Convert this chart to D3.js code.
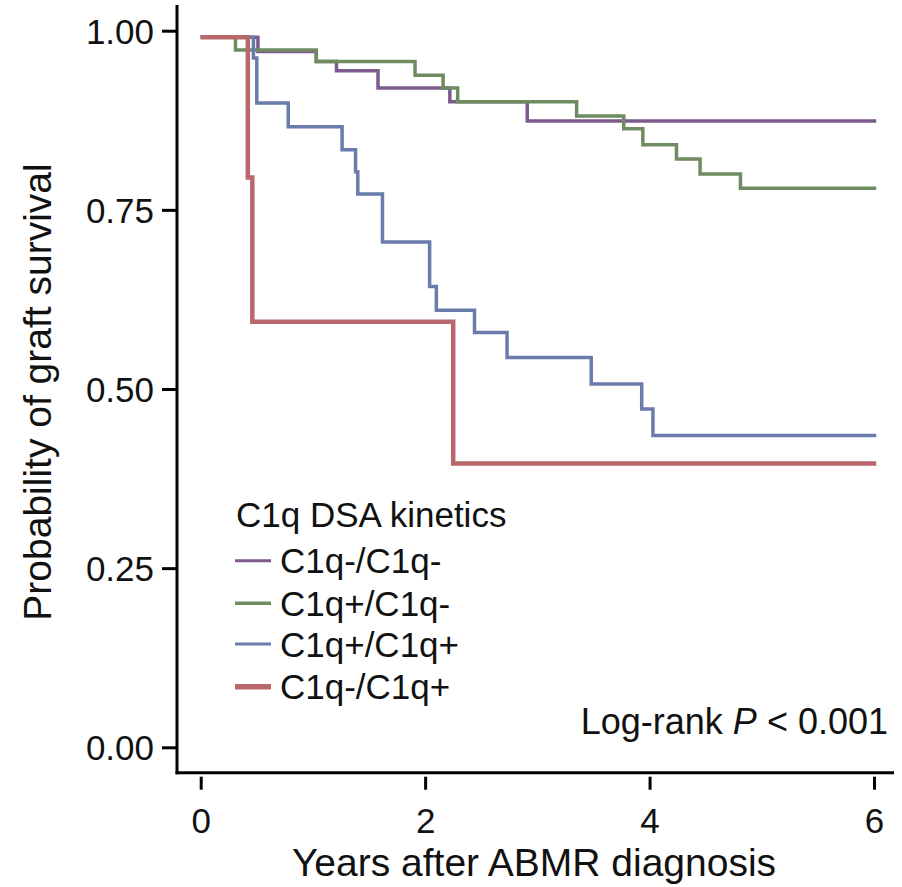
<!DOCTYPE html>
<html>
<head>
<meta charset="utf-8">
<script src="https://cdn.jsdelivr.net/npm/d3@7"></script>
<style>
  html, body { margin: 0; padding: 0; background: #fff; }
  svg { display: block; }
  text { font-family: "Liberation Sans", Arial, sans-serif; fill: #111; }
</style>
</head>
<body>
<svg id="chart" width="902" height="887"></svg>
<script>
// ---- data ----
const xTicks = [0, 2, 4, 6];
const yTicks = [0, 0.25, 0.5, 0.75, 1];
const seriesNames = ["C1q-/C1q-", "C1q+/C1q-", "C1q+/C1q+", "C1q-/C1q+"];
const seriesColors = ["#7d5b8c", "#6f8b60", "#6a7cab", "#b8686d"];
const legendTitle = "C1q DSA kinetics";
const xTitle = "Years after ABMR diagnosis";
const yTitle = "Probability of graft survival";

const timesPurple = [0, 0.51, 1.03, 1.21, 1.58, 2.22, 2.91, 6.02];
const survPurple  = [0.991, 0.971, 0.957, 0.944, 0.920, 0.901, 0.874, 0.874];

const timesGreen = [0, 0.31, 1.03, 1.91, 2.16, 2.29, 3.35, 3.77, 3.94, 4.24, 4.45, 4.81, 6.02];
const survGreen  = [0.991, 0.973, 0.957, 0.938, 0.920, 0.901, 0.881, 0.863, 0.841, 0.821, 0.800, 0.780, 0.780];

const timesBlue = [0, 0.47, 0.50, 0.78, 1.26, 1.38, 1.40, 1.62, 2.04, 2.10, 2.44, 2.73, 3.48, 3.93, 4.03, 6.02];
const survBlue  = [0.991, 0.962, 0.899, 0.866, 0.834, 0.803, 0.772, 0.705, 0.643, 0.610, 0.579, 0.544, 0.507, 0.472, 0.435, 0.435];

const timesRed = [0, 0.42, 0.46, 2.25, 6.02];
const survRed  = [0.991, 0.795, 0.594, 0.396, 0.396];

const seriesTimes = [timesPurple, timesGreen, timesBlue, timesRed];
const seriesSurv  = [survPurple, survGreen, survBlue, survRed];

// ---- layout ----
const svg = d3.select("#chart");
svg.append("rect").attr("width", 902).attr("height", 887).attr("fill", "#fff");

const x = d3.scaleLinear().domain([0, 6]).range([200.7, 874]);
const y = d3.scaleLinear().domain([0, 1]).range([747.3, 30.7]);
const axisX = 177;      // y-axis line position
const axisY = 772.7;    // x-axis line position

// curves
const line = d3.line()
  .x(d => x(d[0]))
  .y(d => y(d[1]))
  .curve(d3.curveStepAfter);

const lineWidths = [3.5, 3.5, 3.5, 4.5];
const g = svg.append("g");
seriesNames.forEach((name, i) => {
  const pts = seriesTimes[i].map((t, j) => [t, seriesSurv[i][j]]);
  g.append("path")
    .datum(pts)
    .attr("fill", "none")
    .attr("stroke", seriesColors[i])
    .attr("stroke-width", lineWidths[i])
    .attr("d", line);
});

// y axis
const yAxis = svg.append("g")
  .attr("transform", `translate(${axisX},0)`)
  .call(d3.axisLeft(y).tickValues(yTicks).tickFormat(d3.format(".2f")).tickSize(15).tickPadding(8));
yAxis.select(".domain").remove();
yAxis.selectAll(".tick line").attr("stroke", "#000").attr("stroke-width", 3);
yAxis.selectAll(".tick text").attr("font-size", 35).attr("fill", "#111")
  .style("font-family", "'Liberation Sans', Arial, sans-serif").attr("dy", "0.36em");

// x axis (ticks detached below the axis line)
const xAxis = svg.append("g")
  .attr("transform", `translate(0,${axisY + 4})`)
  .call(d3.axisBottom(x).tickValues(xTicks).tickFormat(d3.format("d")).tickSize(13).tickPadding(18));
xAxis.select(".domain").remove();
xAxis.selectAll(".tick line").attr("stroke", "#000").attr("stroke-width", 3);
xAxis.selectAll(".tick text").attr("font-size", 35).attr("fill", "#111")
  .style("font-family", "'Liberation Sans', Arial, sans-serif");

// axis lines
svg.append("line").attr("x1", axisX).attr("x2", axisX).attr("y1", 5).attr("y2", axisY + 1.5)
  .attr("stroke", "#000").attr("stroke-width", 3);
svg.append("line").attr("x1", axisX - 1.5).attr("x2", 894).attr("y1", axisY).attr("y2", axisY)
  .attr("stroke", "#000").attr("stroke-width", 3);

// axis titles
svg.append("text")
  .attr("x", 534).attr("y", 876)
  .attr("text-anchor", "middle").attr("font-size", 39)
  .text(xTitle);
svg.append("text")
  .attr("transform", `translate(51,${392}) rotate(-90)`)
  .attr("text-anchor", "middle").attr("font-size", 39)
  .text(yTitle);

// legend
const legend = svg.append("g");
legend.append("text").attr("x", 236).attr("y", 527).attr("font-size", 35).text(legendTitle);
const legendY = [560.7, 603.3, 644, 686.7];
const legendW = [3, 3.5, 3, 5.5];
seriesNames.forEach((name, i) => {
  legend.append("line")
    .attr("x1", 235).attr("x2", 271)
    .attr("y1", legendY[i]).attr("y2", legendY[i])
    .attr("stroke", seriesColors[i]).attr("stroke-width", legendW[i]);
  legend.append("text")
    .attr("x", 280).attr("y", legendY[i] + 12.5)
    .attr("font-size", 35).text(name);
});

// log-rank annotation
const lr = svg.append("text").attr("x", 888).attr("y", 734).attr("text-anchor", "end").attr("font-size", 36);
lr.append("tspan").text("Log-rank ");
lr.append("tspan").attr("font-style", "italic").text("P");
lr.append("tspan").text(" < 0.001");
</script>
</body>
</html>
